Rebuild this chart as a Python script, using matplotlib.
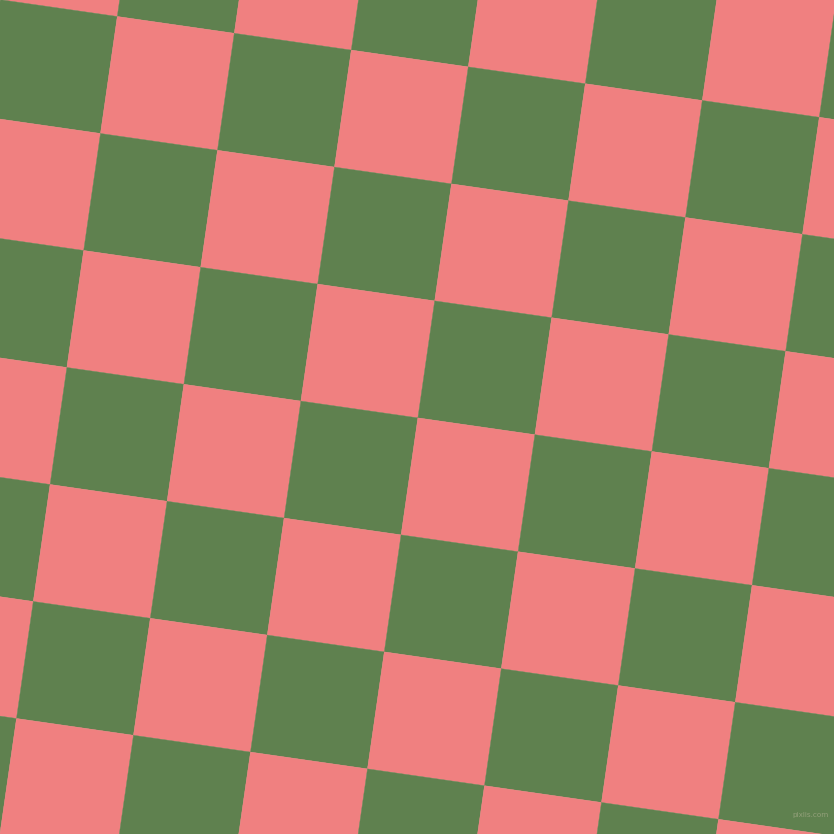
import numpy as np
import matplotlib
matplotlib.use('Agg')
import matplotlib.pyplot as plt
from matplotlib.patches import Polygon

# tile colours: index 0 for even cells, 1 for odd
colors = ['#5f814f', '#f08080']

# one known tile corner and the two edge vectors of a tile (pixels)
origin = np.array([100.5, 133.5])
step_u = np.array([117.0, 16.8])
step_v = np.array([-16.8, 117.0])

size = 834
watermark = 'pixlis.com'

fig = plt.figure(figsize=(size / 100, size / 100), dpi=100)
ax = fig.add_axes([0, 0, 1, 1])
ax.set_xlim(0, size)
ax.set_ylim(size, 0)
ax.axis('off')

for i in range(-3, 10):
    for j in range(-3, 10):
        p0 = origin + i * step_u + j * step_v
        corners = [p0, p0 + step_u, p0 + step_u + step_v, p0 + step_v]
        ax.add_patch(Polygon(corners, closed=True,
                             facecolor=colors[(i + j) % 2],
                             edgecolor=colors[(i + j) % 2],
                             linewidth=0.3))

ax.text(829, 815, watermark, fontsize=5.2, color='#93a07a',
        ha='right', va='center')

fig.savefig('out.png', dpi=100)
